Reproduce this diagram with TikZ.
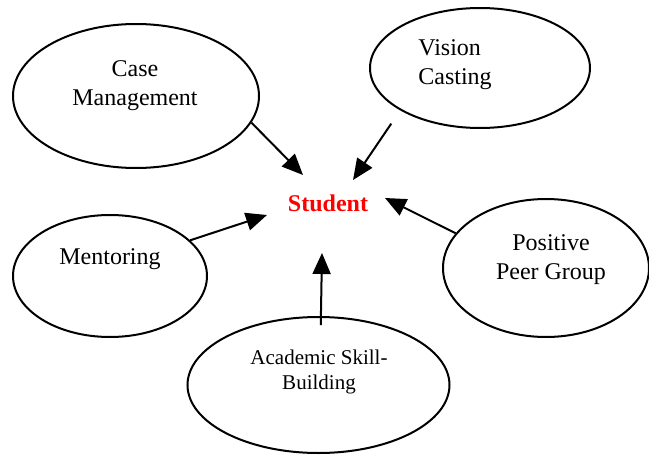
\documentclass[tikz,border=0pt]{standalone}
\usepackage{fontspec}
\setmainfont{Liberation Serif}
\usetikzlibrary{shapes, arrows.meta}

\begin{document}
\begin{tikzpicture}[
        x=0.5pt, y=-0.5pt,
        bubble/.style={ellipse, draw, line width=1pt, inner sep=0pt},
        txt/.style={font=\fontsize{12}{14.5}\selectfont, align=center, inner sep=0pt},
        arr/.style={-{Triangle[length=10.5pt, width=9pt]}, line width=1pt}
    ]
        \useasboundingbox (0,0) rectangle (649,455);

        % Bubbles
        \node[bubble, minimum width=123pt, minimum height=72pt] (cm) at (136, 96) {};
        \node[bubble, minimum width=110pt, minimum height=60pt] (vc) at (480, 68) {};
        \node[bubble, minimum width=97pt, minimum height=61pt] (men) at (110, 276) {};
        \node[bubble, minimum width=103pt, minimum height=69pt] (ppg) at (546, 268) {};
        \node[bubble, minimum width=131pt, minimum height=68pt] (acb) at (318.5, 385) {};

        % Labels
        \node[txt] (cmtxt) at (135, 86) {Case\\Management};
        \node[txt, align=left, anchor=west] (vctxt) at (418, 65) {Vision\\Casting};
        \node[txt] (mentxt) at (110, 259) {Mentoring};
        \node[txt] (ppgtxt) at (551, 260) {Positive\\Peer Group};
        \node[txt, font=\fontsize{10.5}{12.5}\selectfont] (acbtxt) at (319, 372) {Academic Skill-\\Building};
        \node[txt, font=\fontsize{12}{14}\selectfont\bfseries, text=red] (stu) at (328, 203) {Student};

        % Arrow tips
        \coordinate (t1) at (303, 175);
        \coordinate (t2) at (353, 180);
        \coordinate (t3) at (267, 215);
        \coordinate (t4) at (385, 198);
        \coordinate (t5) at (322, 253);

        % Arrows
        \draw[arr] (cm.-13) -- (t1);
        \draw[arr, shorten <=8pt] (vc.-152) -- (t2);
        \draw[arr] (men.24) -- (t3);
        \draw[arr] (ppg.159) -- (t4);
        \draw[arr, shorten <=-4.5pt] (acb.88) -- (t5);
    \end{tikzpicture}
\end{document}
